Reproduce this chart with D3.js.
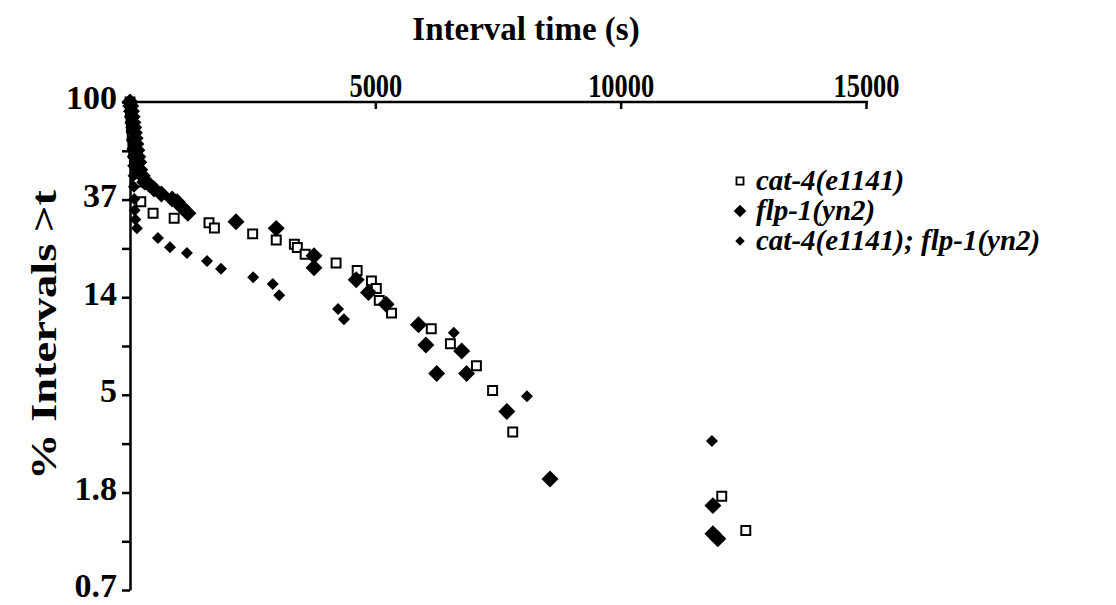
<!DOCTYPE html>
<html>
<head>
<meta charset="utf-8">
<script src="https://cdn.jsdelivr.net/npm/d3@7"></script>
<style>
  body { margin: 0; background: #fff; }
  text { font-family: "Liberation Serif", "Times New Roman", serif; font-weight: bold; fill: #000; }
  .axis path, .axis line { stroke: #000; stroke-width: 2.5; }
</style>
</head>
<body>
<div id="chart"></div>
<script>
// cat-4(e1141) - open squares
const catTime = [0, 10, 20, 30, 45, 60, 75, 90, 110, 130, 220, 470, 900, 1610, 1720, 2500, 2980, 3350, 3410, 3570,
  4200, 4630, 4920, 5020, 5080, 5330, 6140, 6530, 7060, 7390, 7800, 12060, 12550];
const catPct = [100, 92, 84, 77, 70, 64, 59, 54, 49, 44, 36.0, 32.0, 30.4, 29.0, 27.5, 25.9, 24.3, 23.3, 22.5, 21.0,
  19.2, 17.8, 16.0, 14.8, 13.1, 11.5, 9.8, 8.4, 6.7, 5.2, 3.4, 1.76, 1.24];

// flp-1(yn2) - large filled diamonds
const flpTime = [0, 15, 30, 45, 60, 75, 90, 105, 120, 140, 160, 180, 200, 250, 300, 390, 490, 640, 860, 960, 1060, 1180,
  2160, 2980, 3750, 3750, 4610, 4860, 5220, 5880, 6030, 6760, 6250, 6860, 7680, 8560, 11880, 11880, 11980];
const flpPct = [100, 96, 91, 86, 81, 77, 73, 69, 65, 61, 57, 54, 50, 47, 44, 43, 41, 39, 37, 36, 34, 32,
  29.3, 27.4, 20.7, 18.3, 16.2, 14.2, 12.6, 10.2, 8.3, 7.8, 6.2, 6.2, 4.2, 2.1, 1.6, 1.2, 1.14];

// cat-4(e1141); flp-1(yn2) - small filled diamonds
const dblTime = [0, 8, 16, 24, 32, 40, 48, 56, 64, 72, 80, 88, 96, 110, 140, 570, 815, 1160, 1570, 1855, 2510, 2910, 3040,
  4240, 4360, 6600, 8090, 11860];
const dblPct = [100, 93, 86, 80, 74, 68, 62, 57, 52, 47, 42, 37, 33, 30, 27.4, 24.8, 22.6, 21.3, 19.6, 18.1, 16.6, 15.5, 13.8,
  12.0, 10.8, 9.4, 4.9, 3.1];

const xTicks = [5000, 10000, 15000];
const yTicks = [100, 60.65, 36.79, 22.31, 13.53, 8.21, 4.98, 3.02, 1.83, 1.11, 0.674];
const yTickLabels = ["100", "", "37", "", "14", "", "5", "", "1.8", "", "0.7"];
const seriesNames = ["cat-4(e1141)", "flp-1(yn2)", "cat-4(e1141); flp-1(yn2)"];

const width = 1116, height = 605;
const svg = d3.select("#chart").append("svg")
  .attr("width", width)
  .attr("height", height);

const x = d3.scaleLinear().domain([0, 15000]).range([130, 866]);
const y = d3.scaleLog().domain([0.674, 100]).range([590, 102]);

// axes
const xAxis = d3.axisTop(x).tickValues(xTicks).tickFormat(d3.format("d"))
  .tickSizeInner(-7).tickSizeOuter(0).tickPadding(5);
const gx = svg.append("g").attr("class", "axis")
  .attr("transform", "translate(0," + y(100) + ")")
  .call(xAxis);
gx.select(".domain").attr("d", "M" + x(0) + ",0H" + (x(15000) + 2));
gx.selectAll("text")
  .style("font-size", "33px")
  .attr("transform", "scale(0.8,1)");

const yAxis = d3.axisLeft(y).tickValues(yTicks).tickSizeInner(8).tickSizeOuter(0).tickPadding(5)
  .tickFormat((d, i) => yTickLabels[i]);
const gy = svg.append("g").attr("class", "axis")
  .attr("transform", "translate(" + x(0) + ",0)")
  .call(yAxis);
gy.selectAll("text").style("font-size", "34px").attr("dy", "0.2em");

// titles
svg.append("text")
  .attr("x", 526).attr("y", 40)
  .attr("text-anchor", "middle")
  .style("font-size", "33px")
  .text("Interval time (s)");

svg.append("text")
  .attr("transform", "translate(56,335) rotate(-90)")
  .attr("text-anchor", "middle")
  .attr("textLength", 290)
  .attr("lengthAdjust", "spacingAndGlyphs")
  .style("font-size", "36px")
  .text("% Intervals >t");

// markers
const square = d3.symbol().type(d3.symbolSquare);

function points(times, pcts) {
  return times.map((t, i) => ({ t: t, p: pcts[i] }));
}

svg.append("g").selectAll("path")
  .data(points(catTime, catPct))
  .enter().append("path")
  .attr("d", square.size(80)())
  .attr("transform", d => "translate(" + x(d.t) + "," + y(d.p) + ")")
  .attr("fill", "#fff")
  .attr("stroke", "#000")
  .attr("stroke-width", 2);

svg.append("g").selectAll("path")
  .data(points(flpTime, flpPct))
  .enter().append("path")
  .attr("d", square.size(144)())
  .attr("transform", d => "translate(" + x(d.t) + "," + y(d.p) + ") rotate(45)")
  .attr("fill", "#000");

svg.append("g").selectAll("path")
  .data(points(dblTime, dblPct))
  .enter().append("path")
  .attr("d", square.size(72)())
  .attr("transform", d => "translate(" + x(d.t) + "," + y(d.p) + ") rotate(45)")
  .attr("fill", "#000");

// legend
const legend = svg.append("g").attr("transform", "translate(740,0)");
const legendY = [181, 211, 241];
const legendSize = [50, 80, 45];

legend.selectAll(".mark")
  .data(seriesNames)
  .enter().append("path")
  .attr("d", (d, i) => square.size(legendSize[i])())
  .attr("transform", (d, i) => "translate(0," + legendY[i] + ")" + (i > 0 ? " rotate(45)" : ""))
  .attr("fill", (d, i) => i === 0 ? "#fff" : "#000")
  .attr("stroke", "#000")
  .attr("stroke-width", (d, i) => i === 0 ? 1.8 : 0);

legend.selectAll(".label")
  .data(seriesNames)
  .enter().append("text")
  .attr("x", 16)
  .attr("y", (d, i) => legendY[i] + 9)
  .style("font-size", "29px")
  .style("font-style", "italic")
  .text(d => d);
</script>
</body>
</html>
